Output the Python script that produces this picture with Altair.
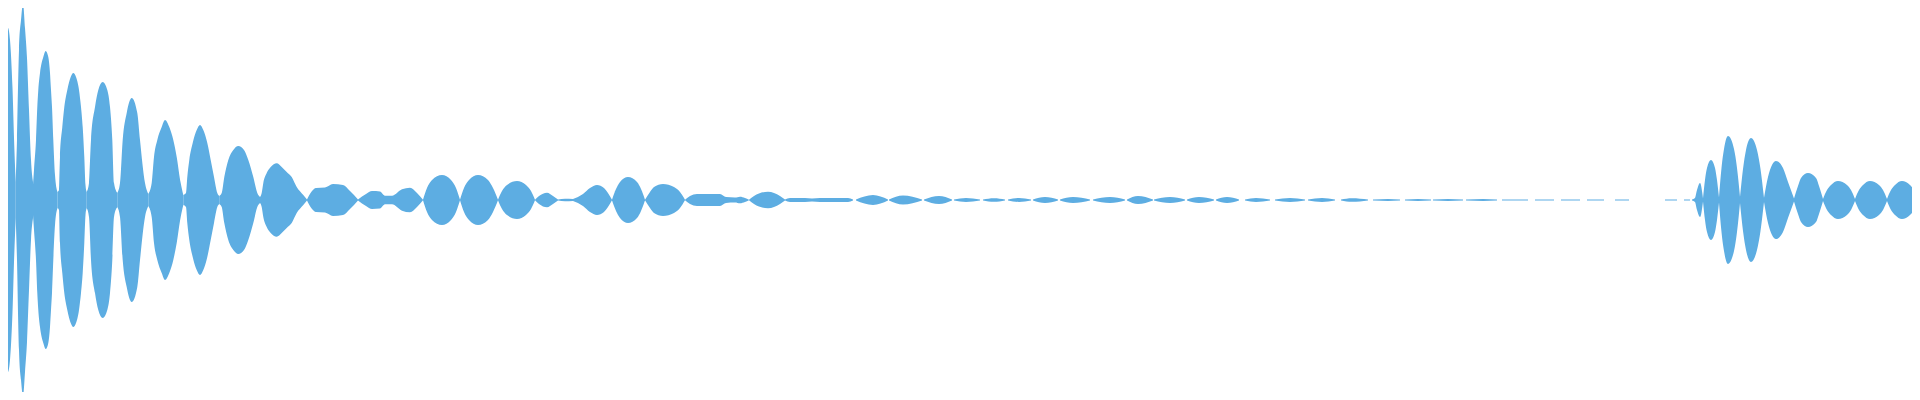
import altair as alt
import pandas as pd

# Waveform envelope.
# t = time position (sample columns), amp = half-height of the envelope.
# Each inner list is one lobe of the envelope: (t, amp) points.

burst_onset = [
    [(0, 53), (2, 32), (3.5, 17)],
    [(3.5, 17), (4.5, 63), (6, 152), (8, 172), (10, 160), (12.5, 112), (14, 62), (15.7, 18)],
    [(15.7, 18), (17, 60), (19, 150), (21, 180), (23, 196), (25, 172), (27, 142), (29, 90), (31, 40), (33, 18)],
    [(33, 15), (34, 30), (36, 60), (37.3, 93), (38.3, 110), (40, 127), (43.3, 143), (45.7, 149),
     (48.3, 143), (50, 127), (51, 110), (52, 93), (53.3, 60), (55, 25), (57.5, 8)],
    [(57.5, 8), (59, 10), (60, 43), (62.3, 73), (64.3, 93), (67.3, 110), (70.7, 123), (73.3, 127),
     (76, 123), (79, 110), (81, 93), (82.7, 73), (84.3, 43), (85.5, 15), (86.7, 8)],
    [(86.7, 8), (89, 17), (91, 60), (95, 93), (98.3, 110), (102.7, 118), (107.3, 110), (110, 93),
     (112.3, 60), (114, 17), (117.3, 7)],
    [(117.3, 7), (120, 17), (122.7, 60), (126.7, 87), (131.7, 102), (137.3, 87), (140, 60), (145, 17), (148.3, 6)],
    [(148.3, 6), (151.7, 17), (154, 43), (157.3, 60), (161.7, 73), (165, 80), (169.3, 73), (173.3, 60),
     (176.7, 43), (180.7, 17), (183.3, 5)],
    [(183.3, 5), (186, 7), (187.3, 23), (189.3, 40), (192.7, 57), (196.7, 70), (200, 75), (203.3, 70),
     (207.3, 57), (210.7, 40), (214, 23), (217.3, 7), (219.3, 4)],
    [(219.3, 4), (221.7, 7), (224.3, 23), (228.3, 40), (233.3, 50), (238.3, 54), (244, 50), (248.3, 40),
     (253.3, 23), (257.3, 7), (260, 3)],
    [(260, 3), (261.7, 7), (263.3, 17), (266.7, 27), (270.7, 33), (276.7, 36.7), (281.7, 33), (286.7, 28),
     (291.7, 23), (296.7, 13), (303.3, 5), (307, 0.5)],
]

burst_tail = [
    [(307, 0.5), (312, 9), (316, 12), (325, 12.5), (333, 16), (343, 15), (350, 9), (358, 0.5)],
    [(358, 0.5), (366, 6), (372, 9), (380, 8.5), (385, 4.3), (392, 4.3), (402, 10.7), (410, 12.3), (417, 7), (423, 0.3)],
    [(423, 0.3), (427, 12), (432, 20), (442, 25), (451, 20), (456, 12), (460, 0.3)],
    [(460, 0.3), (464, 12), (469, 20), (478, 25), (488, 20), (493, 12), (498, 0.3)],
    [(498, 0.3), (502, 9), (507, 15), (517, 19), (526, 15), (531, 9), (535, 0.3)],
    [(535, 0.3), (539, 4), (547, 7.3), (553, 4), (558, 0.5)],
    [(558, 0.5), (565, 1.2), (573, 1)],
    [(573, 1), (583, 6), (590, 12), (597, 15), (604, 12), (612, 0.3)],
    [(612, 0.3), (616, 11), (620, 18), (628, 23), (637, 18), (641, 11), (645, 0.3)],
    [(645, 0.3), (650, 8), (654, 13), (663, 16), (674, 13), (680, 8), (685, 0.3)],
    [(685, 0.3), (690, 4), (697, 6), (720, 6), (726, 3), (735, 2.5), (740, 3.3), (745, 2), (749, 0.3)],
    [(749, 0.3), (754, 4), (768, 8.3), (780, 4), (785, 0.5)],
    [(785, 0.5), (790, 2), (805, 2), (812, 1.5), (820, 2), (848, 2), (853, 0.5)],
]

# quiet lobes: (start, peak position, peak amp, end)
quiet_lobes = [
    (856, 873, 5, 888), (889, 903, 4.5, 922), (924, 939, 4, 952), (954, 966, 2, 980),
    (983, 994, 1.8, 1005), (1008, 1019, 2, 1031), (1033, 1045, 3, 1058), (1060, 1073, 3, 1090),
    (1093, 1110, 3, 1125), (1127, 1138, 4, 1153), (1154, 1170, 3, 1185), (1187, 1199, 3, 1214),
    (1216, 1227, 3, 1239), (1245, 1256, 2, 1270), (1275, 1290, 2, 1305), (1308, 1322, 2, 1335),
    (1341, 1352, 1.8, 1368), (1373, 1388, 1, 1400), (1405, 1418, 1, 1431), (1433, 1448, 1, 1463),
    (1466, 1483, 0.9, 1497),
]
quiet_edge_amp = 0.5

# near-silent stretches: (start, end)
silent_dashes = [(1502, 1528), (1535, 1554), (1561, 1580), (1587, 1604), (1615, 1629), (1665, 1677), (1684, 1690)]
silent_amp = 0.5

burst_second = [
    [(1692, 0.5), (1695, 2), (1697, 10), (1700, 17), (1703, 1.5)],
    [(1703, 1.5), (1705, 20), (1707, 32), (1711, 40), (1715, 32), (1717, 20), (1719, 2.5)],
    [(1719, 2.5), (1721.5, 32), (1724, 51), (1728, 64), (1734, 51), (1737, 32), (1740, 3)],
    [(1740, 3), (1743, 31), (1746, 50), (1751, 62), (1757, 50), (1760.5, 31), (1764, 2)],
    [(1764, 2), (1768, 23), (1772, 35), (1776, 39), (1783, 32), (1788, 18), (1794, 1.5)],
    [(1794, 1.5), (1798, 14), (1801, 22), (1808, 27), (1816, 22), (1819, 14), (1823, 1)],
    [(1823, 1), (1827, 10), (1831, 15), (1838, 19), (1847, 15), (1851, 10), (1855, 1)],
    [(1855, 1), (1859, 10), (1863, 15), (1870, 19), (1879, 15), (1883, 10), (1887, 1)],
    [(1887, 1), (1891, 10), (1895, 15), (1902, 19), (1910, 15), (1914, 10), (1918, 1)],
    [(1918, 1), (1920, 9)],
]

# ---- assemble table ----
segments = []
segments += burst_onset
segments += burst_tail
for s, p, a, e in quiet_lobes:
    segments.append([(s, quiet_edge_amp), (p, a), (e, quiet_edge_amp)])
for s, e in silent_dashes:
    segments.append([(s, silent_amp), (e, silent_amp)])
segments += burst_second

rows = []
for i, seg in enumerate(segments):
    for t, a in seg:
        rows.append({"seg": "s%03d" % i, "t": float(t), "top": float(a), "bottom": -float(a)})
df = pd.DataFrame(rows)

chart = (
    alt.Chart(df)
    .mark_area(color="#5DADE2", interpolate="monotone", clip=True)
    .encode(
        x=alt.X("t:Q", scale=alt.Scale(domain=[8, 1912], nice=False, zero=False), axis=None),
        y=alt.Y("top:Q", scale=alt.Scale(domain=[-192, 192], nice=False, zero=False), axis=None),
        y2="bottom:Q",
        detail="seg:N",
    )
    .properties(width=1904, height=384, padding=0)
    .configure_view(strokeWidth=0)
)

chart.save("out.html", embed_options={"renderer": "svg", "actions": False})
